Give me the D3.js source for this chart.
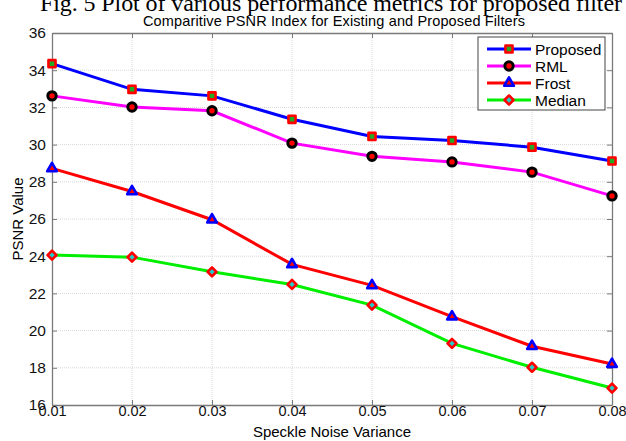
<!DOCTYPE html>
<html>
<head>
<meta charset="utf-8">
<script src="https://cdn.jsdelivr.net/npm/d3@7.9.0/dist/d3.min.js"></script>
<style>
  body { margin: 0; background: #fff; }
  svg { display: block; font-family: Arial, "Liberation Sans", sans-serif; }
</style>
</head>
<body>
<svg id="chart" width="626" height="441"></svg>
<script>
// data
const noiseVariance = [0.01, 0.02, 0.03, 0.04, 0.05, 0.06, 0.07, 0.08];
const proposed = [34.35, 32.97, 32.62, 31.36, 30.44, 30.22, 29.86, 29.12];
const rml      = [32.62, 32.02, 31.82, 30.08, 29.37, 29.07, 28.52, 27.24];
const frost    = [28.72, 27.48, 25.96, 23.56, 22.43, 20.75, 19.16, 18.2];
const median   = [24.06, 23.95, 23.16, 22.48, 21.37, 19.31, 18.03, 16.91];
const yTicks = d3.range(16, 37, 2);

const series = [
  {name: 'Proposed', values: proposed, line: '#0000ff', marker: 'square',   stroke: '#ff0000', fill: '#22aa22'},
  {name: 'RML',      values: rml,      line: '#ff00ff', marker: 'circle',   stroke: '#000000', fill: '#ff0000'},
  {name: 'Frost',    values: frost,    line: '#ff0000', marker: 'triangle', stroke: '#0000ff', fill: '#ff0000'},
  {name: 'Median',   values: median,   line: '#00ee00', marker: 'diamond',  stroke: '#ff0000', fill: '#22cccc'}
];

const margin = {top: 33, right: 14, bottom: 36, left: 52};
const width = 626, height = 441;
const svg = d3.select('#chart');

const x = d3.scaleLinear().domain([0.01, 0.08]).range([margin.left, width - margin.right]);
const y = d3.scaleLinear().domain([16, 36]).range([height - margin.bottom, margin.top]);

// figure caption, its top cut off by the page edge
svg.append('text')
  .attr('x', 40).attr('y', 11)
  .attr('font-family', '"Liberation Serif", "Times New Roman", serif')
  .attr('font-size', 24)
  .attr('textLength', 582)
  .text('Fig. 5 Plot of various performance metrics for proposed filter');

svg.append('text')
  .attr('x', 334).attr('y', 26)
  .attr('text-anchor', 'middle')
  .attr('font-size', 14.5)
  .attr('textLength', 382)
  .text('Comparitive PSNR Index for Existing and Proposed Filters');

// grid
const grid = svg.append('g').attr('stroke', '#d8d8d8').attr('stroke-dasharray', '1,1');
grid.selectAll('.gx').data(noiseVariance.slice(1, -1)).join('line')
  .attr('x1', d => x(d)).attr('x2', d => x(d))
  .attr('y1', y(16)).attr('y2', y(36));
grid.selectAll('.gy').data(yTicks.slice(1, -1)).join('line')
  .attr('x1', x(0.01)).attr('x2', x(0.08))
  .attr('y1', d => y(d)).attr('y2', d => y(d));

// axes
const xAxis = svg.append('g')
  .attr('transform', `translate(0,${y(16)})`)
  .call(d3.axisBottom(x).tickValues(noiseVariance).tickFormat(d3.format('.2f')).tickSizeInner(-5).tickSizeOuter(0).tickPadding(4));
const yAxis = svg.append('g')
  .attr('transform', `translate(${x(0.01)},0)`)
  .call(d3.axisLeft(y).tickValues(yTicks).tickSizeInner(-5).tickSizeOuter(0).tickPadding(6));
const xTop = svg.append('g')
  .attr('transform', `translate(0,${y(36)})`)
  .call(d3.axisTop(x).tickValues(noiseVariance).tickFormat('').tickSizeInner(-5).tickSizeOuter(0));
const yRight = svg.append('g')
  .attr('transform', `translate(${x(0.08)},0)`)
  .call(d3.axisRight(y).tickValues(yTicks).tickFormat('').tickSizeInner(-5).tickSizeOuter(0));

[xAxis, yAxis, xTop, yRight].forEach(g => {
  g.select('.domain').attr('stroke', '#7a7a7a').attr('stroke-width', 1.3);
  g.selectAll('.tick line').attr('stroke', '#7a7a7a');
  g.selectAll('.tick text').attr('font-size', 15.5).attr('fill', '#111')
    .attr('font-family', 'Arial, "Liberation Sans", sans-serif');
});
xAxis.selectAll('.tick text').attr('dy', '0.5em').attr('font-size', 14.5);

svg.append('text')
  .attr('x', 332).attr('y', 437)
  .attr('text-anchor', 'middle')
  .attr('font-size', 15)
  .text('Speckle Noise Variance');
svg.append('text')
  .attr('transform', `translate(23,${(y(16) + y(36)) / 2}) rotate(-90)`)
  .attr('text-anchor', 'middle')
  .attr('font-size', 15)
  .text('PSNR Value');

// marker shapes
const shapes = {
  square: {d: d3.symbol().type(d3.symbolSquare).size(50)(), rot: 0},
  circle: {d: d3.symbol().type(d3.symbolCircle).size(55)(), rot: 0},
  triangle: {d: d3.symbol().type(d3.symbolTriangle).size(40)(), rot: 0},
  diamond: {d: d3.symbol().type(d3.symbolSquare).size(40)(), rot: 45}
};
function drawMarker(g, s, px, py) {
  const sh = shapes[s.marker];
  g.append('path')
    .attr('d', sh.d)
    .attr('transform', `translate(${px},${py}) rotate(${sh.rot})`)
    .attr('fill', s.fill)
    .attr('stroke', s.stroke)
    .attr('stroke-linejoin', 'round')
    .attr('stroke-width', s.marker === 'circle' ? 3 : 2.6);
}

const line = d3.line().x((d, i) => x(noiseVariance[i])).y(d => y(d));

series.forEach(s => {
  const g = svg.append('g');
  g.append('path')
    .attr('d', line(s.values))
    .attr('fill', 'none')
    .attr('stroke', s.line)
    .attr('stroke-width', 3);
  s.values.forEach((v, i) => drawMarker(g, s, x(noiseVariance[i]), y(v)));
});

// legend
const lg = svg.append('g').attr('transform', 'translate(478,37)');
lg.append('rect')
  .attr('width', 127).attr('height', 73)
  .attr('fill', '#fff').attr('stroke', '#444').attr('stroke-width', 1);
series.forEach((s, i) => {
  const ly = 12 + i * 17;
  lg.append('line')
    .attr('x1', 9).attr('x2', 53).attr('y1', ly).attr('y2', ly)
    .attr('stroke', s.line).attr('stroke-width', 3);
  drawMarker(lg, s, 31, ly);
  lg.append('text')
    .attr('x', 57).attr('y', ly + 5.5)
    .attr('font-size', 15.5)
    .text(s.name);
});
</script>
</body>
</html>
